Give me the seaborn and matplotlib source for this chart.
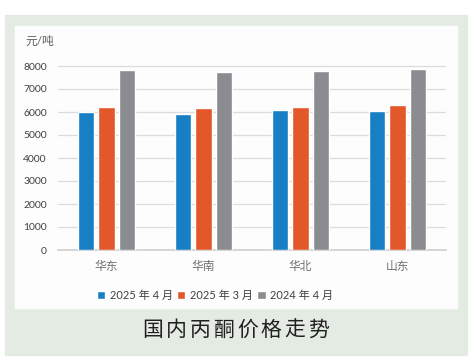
import pandas as pd
import matplotlib.pyplot as plt
import seaborn as sns
from matplotlib.patches import Rectangle

# 数据
regions = ["华东", "华南", "华北", "山东"]
apr_2025 = [6000, 5910, 6070, 6040]
mar_2025 = [6220, 6190, 6220, 6320]
apr_2024 = [7830, 7750, 7780, 7860]
series_names = ["2025 年 4 月", "2025 年 3 月", "2024 年 4 月"]
yticks = [0, 1000, 2000, 3000, 4000, 5000, 6000, 7000, 8000]
title = "国内丙酮价格走势"

colors = ["#1780c4", "#e2582a", "#8a8c8f"]

df = pd.DataFrame({
    "region": regions * 3,
    "series": [s for s in series_names for _ in regions],
    "price": apr_2025 + mar_2025 + apr_2024,
})

sns.set_theme(style="white")
plt.rcParams["font.family"] = ["Lato", "Noto Sans CJK SC", "DejaVu Sans"]

fig = plt.figure(figsize=(4.73, 3.62), dpi=100)
W, H = 473, 362

# 背景：浅绿色外框 + 白色面板
fig.patches.append(Rectangle((5 / W, 1 - 355 / H), 462 / W, 340 / H,
                             transform=fig.transFigure, color="#e4ebe3", zorder=-2))
fig.patches.append(Rectangle((15 / W, 1 - 308 / H), 442 / W, 282 / H,
                             transform=fig.transFigure, color="#fdfdfd", zorder=-1))

ax = fig.add_axes([58 / W, 1 - 250 / H, 388 / W, 193.2 / H])
ax.patch.set_alpha(0)

sns.barplot(data=df, x="region", y="price", hue="series", hue_order=series_names,
            palette=colors, width=0.64, gap=0.2, saturation=1, ax=ax, zorder=3)

ax.set_ylim(0, 8400)
ax.set_xlim(-0.5, 3.5)
ax.set_yticks(yticks)
ax.set_yticklabels([str(v) for v in yticks], fontsize=7.5, color="#404040")
ax.set_xticks(range(len(regions)))
ax.set_xticklabels(regions, fontsize=8.5, color="#707070")
ax.tick_params(axis="y", length=0, pad=8)
ax.tick_params(axis="x", length=0, pad=8)
ax.set_xlabel("")
ax.set_ylabel("")

for v in yticks[1:]:
    ax.axhline(v, color="#dcdcdc", lw=0.9, zorder=1)

for s in ["top", "right", "left"]:
    ax.spines[s].set_visible(False)
ax.spines["bottom"].set_color("#cfcfcf")
ax.spines["bottom"].set_linewidth(1.2)

fig.text(25 / W, 1 - 41 / H, "元/吨", fontsize=8.5, color="#606060", va="center", ha="left")

handles, labels = ax.get_legend_handles_labels()
ax.legend(handles, labels, loc="center", bbox_to_anchor=(215 / W, 1 - 295 / H),
          bbox_transform=fig.transFigure, ncol=3, frameon=False, fontsize=8,
          handlelength=0.75, handleheight=0.75, handletextpad=0.4, columnspacing=0.4,
          labelcolor="#404040")

# 标题（字间距较大，逐字放置）
for i, ch in enumerate(title):
    fig.text((153 + i * 23.6) / W, 1 - 330 / H, ch, fontsize=15, color="#202020",
             ha="center", va="center")

fig.savefig("out.png", dpi=100)
